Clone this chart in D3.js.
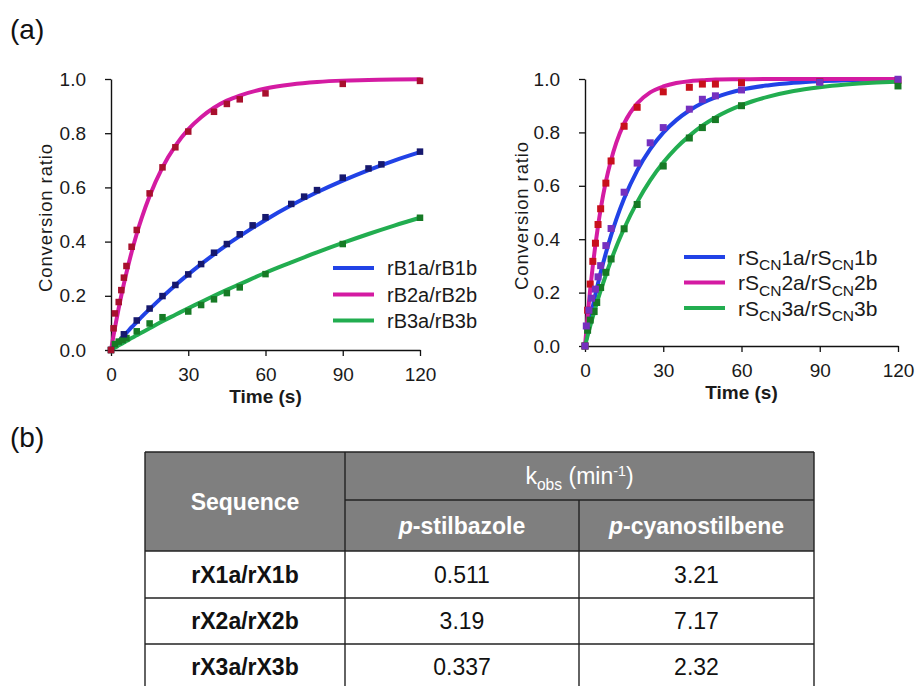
<!DOCTYPE html>
<html>
<head>
<meta charset="utf-8">
<script src="https://cdn.jsdelivr.net/npm/d3@7"></script>
<style>
  body { margin: 0; background: #fff; }
  svg text { font-family: "Liberation Sans", Arial, sans-serif; }
</style>
</head>
<body>
<div id="chart"></div>
<script>
// ---- data ----
const xTicks = [0, 30, 60, 90, 120];
const yTicks = [0, 0.2, 0.4, 0.6, 0.8, 1.0];

// fitted curves, sampled at these times (s)
const fitTimes = [0, 1, 2, 3, 4, 5, 6, 8, 10, 12, 15, 20, 25, 30, 35, 40, 45, 50, 60, 70, 80, 90, 100, 110, 120];
const rB1Fit = [0, 0.011, 0.022, 0.032, 0.043, 0.053, 0.063, 0.084, 0.103, 0.123, 0.151, 0.196, 0.239, 0.279, 0.317, 0.353, 0.388, 0.420, 0.480, 0.534, 0.582, 0.625, 0.664, 0.699, 0.730];
const rB2Fit = [0, 0.055, 0.106, 0.155, 0.201, 0.244, 0.285, 0.361, 0.429, 0.489, 0.568, 0.674, 0.753, 0.814, 0.859, 0.894, 0.920, 0.939, 0.965, 0.980, 0.989, 0.994, 0.996, 0.998, 0.999];
const rB3Fit = [0, 0.006, 0.011, 0.017, 0.022, 0.028, 0.033, 0.044, 0.054, 0.065, 0.080, 0.106, 0.130, 0.154, 0.177, 0.200, 0.222, 0.243, 0.285, 0.323, 0.360, 0.395, 0.428, 0.459, 0.488];
const rSCN1Fit = [0, 0.052, 0.102, 0.148, 0.193, 0.235, 0.275, 0.348, 0.414, 0.474, 0.552, 0.657, 0.737, 0.799, 0.846, 0.882, 0.910, 0.931, 0.960, 0.976, 0.986, 0.992, 0.995, 0.997, 0.998];
const rSCN2Fit = [0, 0.113, 0.213, 0.301, 0.380, 0.450, 0.512, 0.616, 0.697, 0.762, 0.834, 0.908, 0.950, 0.972, 0.985, 0.992, 0.995, 0.998, 0.999, 1.0, 1.0, 1.0, 1.0, 1.0, 1.0];
const rSCN3Fit = [0, 0.038, 0.075, 0.110, 0.143, 0.176, 0.207, 0.266, 0.321, 0.372, 0.440, 0.539, 0.620, 0.687, 0.742, 0.787, 0.825, 0.856, 0.902, 0.933, 0.955, 0.969, 0.979, 0.986, 0.990];

// measured points
const rB1Time = [0, 5, 10, 15, 20, 25, 30, 35, 40, 45, 50, 55, 60, 70, 75, 80, 90, 100, 105, 120];
const rB1Obs  = [0, 0.058, 0.109, 0.153, 0.199, 0.240, 0.279, 0.317, 0.359, 0.391, 0.427, 0.460, 0.490, 0.539, 0.566, 0.590, 0.636, 0.670, 0.685, 0.732];
const rB2Time = [0, 1, 1.5, 3, 4, 5, 6, 8, 10, 15, 20, 25, 30, 40, 45, 50, 60, 90, 120];
const rB2Obs  = [0, 0.080, 0.135, 0.177, 0.221, 0.267, 0.310, 0.381, 0.443, 0.578, 0.674, 0.748, 0.806, 0.879, 0.908, 0.925, 0.947, 0.982, 0.993];
const rB3Time = [0, 1.5, 3, 4.5, 6, 10, 15, 20, 30, 35, 40, 45, 50, 60, 90, 120];
const rB3Obs  = [0, 0.022, 0.031, 0.037, 0.044, 0.069, 0.098, 0.121, 0.142, 0.166, 0.187, 0.210, 0.231, 0.280, 0.391, 0.488];

const rSCN1Time = [0, 0.5, 1.5, 2.5, 4, 5, 6, 8, 10, 15, 20, 25, 30, 40, 45, 50, 60, 90, 120];
const rSCN1Obs  = [0, 0.075, 0.134, 0.179, 0.213, 0.259, 0.301, 0.376, 0.440, 0.576, 0.685, 0.761, 0.818, 0.887, 0.924, 0.937, 0.959, 0.988, 0.999];
const rSCN2Time = [0, 1, 2, 3, 4, 5, 6, 8, 10, 15, 20, 30, 40, 45, 50, 60, 90, 120];
const rSCN2Obs  = [0, 0.134, 0.232, 0.317, 0.385, 0.455, 0.514, 0.610, 0.693, 0.823, 0.894, 0.952, 0.969, 0.981, 0.981, 0.986, 0.990, 0.995];
const rSCN3Time = [0, 1, 2, 3.5, 4.5, 6, 8, 10, 15, 20, 30, 40, 45, 50, 60, 120];
const rSCN3Obs  = [0, 0.059, 0.097, 0.129, 0.163, 0.219, 0.276, 0.326, 0.439, 0.530, 0.674, 0.779, 0.818, 0.848, 0.900, 0.974];

const leftLabels  = ["rB1a/rB1b", "rB2a/rB2b", "rB3a/rB3b"];
const rightLabels = ["rS_{CN}1a/rS_{CN}1b", "rS_{CN}2a/rS_{CN}2b", "rS_{CN}3a/rS_{CN}3b"];

// table (b)
const seqLabels   = ["rX1a/rX1b", "rX2a/rX2b", "rX3a/rX3b"];
const stilbazoleK = [0.511, 3.19, 0.337];
const cyanoK      = [3.21, 7.17, 2.32];

// ---- drawing ----
const width = 919, height = 686;
const svg = d3.select("#chart").append("svg")
  .attr("width", width)
  .attr("height", height);

const blueLine = "#2142e6", pinkLine = "#d41ba2", greenLine = "#22ad50";

// writes "a_{sub}b" style labels as tspans
function richText(sel, str, size) {
  str.split(/(_\{[^}]*\})/).filter(s => s.length).forEach(part => {
    if (part.startsWith("_{")) {
      sel.append("tspan").attr("font-size", size * 0.74).attr("dy", size * 0.28).text(part.slice(2, -1));
    } else {
      const t = sel.append("tspan").text(part);
      if (sel.selectAll("tspan").size() > 1) t.attr("dy", -size * 0.28);
    }
  });
}

function panel(o) {
  const x = d3.scaleLinear().domain([0, 120]).range(o.xr);
  const y = d3.scaleLinear().domain([0, 1]).range(o.yr);
  const g = svg.append("g");

  g.append("g")
    .attr("transform", `translate(${o.xr[0]},0)`)
    .call(d3.axisLeft(y).tickValues(yTicks).tickFormat(d3.format(".1f")).tickSize(6).tickPadding(19).tickSizeOuter(0));
  g.append("g")
    .attr("transform", `translate(0,${o.yr[0]})`)
    .call(d3.axisBottom(x).tickValues(xTicks).tickSize(6).tickPadding(12).tickSizeOuter(0));

  g.selectAll(".domain").attr("stroke", "#111").attr("stroke-width", 1.4);
  g.selectAll(".tick line").attr("stroke", "#111").attr("stroke-width", 1.3);
  g.selectAll(".tick text").attr("font-size", 19).attr("fill", "#1a1a1a");

  g.append("text")
    .attr("transform", `translate(${o.ylabX},${(o.yr[0] + o.yr[1]) / 2 + 3}) rotate(-90)`)
    .attr("text-anchor", "middle")
    .attr("dy", "0.35em")
    .attr("font-size", 18.5)
    .attr("letter-spacing", 0.9)
    .attr("fill", "#1a1a1a")
    .text("Conversion  ratio");

  g.append("text")
    .attr("x", (o.xr[0] + o.xr[1]) / 2)
    .attr("y", o.yr[0] + 53)
    .attr("text-anchor", "middle")
    .attr("font-size", 19)
    .attr("font-weight", "bold")
    .attr("fill", "#1a1a1a")
    .text("Time (s)");

  const line = d3.line()
    .x((d, i) => x(fitTimes[i]))
    .y(d => y(d))
    .curve(d3.curveMonotoneX);

  o.series.forEach(s => {
    g.append("path")
      .attr("d", line(s.fit))
      .attr("fill", "none")
      .attr("stroke", s.line)
      .attr("stroke-width", 4)
      .attr("stroke-linecap", "round");
  });

  o.series.slice().sort((a, b) => a.order - b.order).forEach(s => {
    g.append("g").selectAll("rect")
      .data(s.time)
      .join("rect")
      .attr("x", d => x(d) - o.ms / 2)
      .attr("y", (d, i) => y(s.obs[i]) - o.ms / 2)
      .attr("width", o.ms)
      .attr("height", o.ms)
      .attr("fill", s.mark);
  });

  // legend
  const lg = g.append("g");
  o.series.forEach((s, i) => {
    const ly = o.legY[i];
    lg.append("line")
      .attr("x1", o.legX).attr("x2", o.legX + 41)
      .attr("y1", ly).attr("y2", ly)
      .attr("stroke", s.line).attr("stroke-width", 4);
    const t = lg.append("text")
      .attr("x", o.legX + 54)
      .attr("y", ly)
      .attr("dy", "0.36em")
      .attr("font-size", o.legFs)
      .attr("fill", "#1a1a1a");
    richText(t, s.label, o.legFs);
  });
}

panel({
  xr: [111, 420], yr: [350, 79], ylabX: 46, ms: 6.5,
  legX: 333, legY: [268, 294.5, 320.5], legFs: 20,
  series: [
    { fit: rB1Fit, time: rB1Time, obs: rB1Obs, line: blueLine, mark: "#16186e", label: leftLabels[0], order: 1 },
    { fit: rB2Fit, time: rB2Time, obs: rB2Obs, line: pinkLine, mark: "#a8102e", label: leftLabels[1], order: 2 },
    { fit: rB3Fit, time: rB3Time, obs: rB3Obs, line: greenLine, mark: "#167a25", label: leftLabels[2], order: 0 }
  ]
});

panel({
  xr: [585, 898], yr: [346, 79], ylabX: 522, ms: 7,
  legX: 684, legY: [257, 282.5, 308], legFs: 21,
  series: [
    { fit: rSCN1Fit, time: rSCN1Time, obs: rSCN1Obs, line: blueLine, mark: "#7530bf", label: rightLabels[0], order: 2 },
    { fit: rSCN2Fit, time: rSCN2Time, obs: rSCN2Obs, line: pinkLine, mark: "#c8101c", label: rightLabels[1], order: 0 },
    { fit: rSCN3Fit, time: rSCN3Time, obs: rSCN3Obs, line: greenLine, mark: "#167a25", label: rightLabels[2], order: 1 }
  ]
});

// panel letters
svg.append("text").attr("x", 10).attr("y", 39).attr("font-size", 28).attr("fill", "#111").text("(a)");
svg.append("text").attr("x", 10).attr("y", 447).attr("font-size", 28).attr("fill", "#111").text("(b)");

// ---- table ----
const colX = [145, 345, 579, 814];
const rowY = [452, 551, 598, 644, 690];
const splitY = 500;
const tbl = svg.append("g");

tbl.append("rect")
  .attr("x", colX[0]).attr("y", rowY[0])
  .attr("width", colX[3] - colX[0]).attr("height", rowY[1] - rowY[0])
  .attr("fill", "#7f7f7f");

const hLines = [[colX[0], colX[3], rowY[0]], [colX[1], colX[3], splitY], [colX[0], colX[3], rowY[1]],
                [colX[0], colX[3], rowY[2]], [colX[0], colX[3], rowY[3]]];
tbl.selectAll(".h").data(hLines).join("line")
  .attr("x1", d => d[0]).attr("x2", d => d[1])
  .attr("y1", d => d[2]).attr("y2", d => d[2])
  .attr("stroke", "#222").attr("stroke-width", 1.4);
const vLines = [[colX[0], rowY[0]], [colX[1], rowY[0]], [colX[2], splitY], [colX[3], rowY[0]]];
tbl.selectAll(".v").data(vLines).join("line")
  .attr("x1", d => d[0]).attr("x2", d => d[0])
  .attr("y1", d => d[1]).attr("y2", height)
  .attr("stroke", "#222").attr("stroke-width", 1.4);

const fs = 23;
tbl.append("text")
  .attr("x", (colX[0] + colX[1]) / 2).attr("y", (rowY[0] + rowY[1]) / 2)
  .attr("dy", "0.36em").attr("text-anchor", "middle")
  .attr("font-size", fs).attr("font-weight", "bold").attr("fill", "#fff")
  .text("Sequence");

const kh = tbl.append("text")
  .attr("x", (colX[1] + colX[3]) / 2).attr("y", (rowY[0] + splitY) / 2)
  .attr("dy", "0.36em").attr("text-anchor", "middle")
  .attr("font-size", fs).attr("fill", "#fff");
kh.append("tspan").text("k");
kh.append("tspan").attr("font-size", fs * 0.68).attr("dy", 6).text("obs");
kh.append("tspan").attr("dy", -6).text(" (min");
kh.append("tspan").attr("font-size", fs * 0.62).attr("dy", -8).text("-1");
kh.append("tspan").attr("dy", 8).text(")");

[["-stilbazole", colX[1], colX[2]], ["-cyanostilbene", colX[2], colX[3]]].forEach(([name, a, b]) => {
  const t = tbl.append("text")
    .attr("x", (a + b) / 2).attr("y", (splitY + rowY[1]) / 2)
    .attr("dy", "0.36em").attr("text-anchor", "middle")
    .attr("font-size", fs).attr("font-weight", "bold").attr("fill", "#fff");
  t.append("tspan").attr("font-style", "italic").text("p");
  t.append("tspan").text(name);
});

seqLabels.forEach((lab, i) => {
  const cy = (rowY[i + 1] + rowY[i + 2]) / 2;
  const cells = [[lab, colX[0], colX[1], "bold"], [String(stilbazoleK[i]), colX[1], colX[2], "normal"],
                 [String(cyanoK[i]), colX[2], colX[3], "normal"]];
  cells.forEach(([txt, a, b, w]) => {
    tbl.append("text")
      .attr("x", (a + b) / 2).attr("y", cy)
      .attr("dy", "0.36em").attr("text-anchor", "middle")
      .attr("font-size", fs).attr("font-weight", w).attr("fill", "#111")
      .text(txt);
  });
});
</script>
</body>
</html>
